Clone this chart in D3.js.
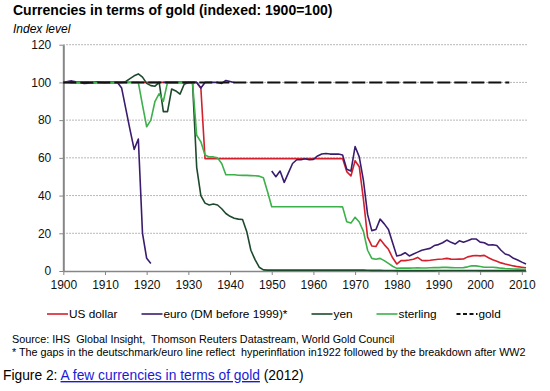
<!DOCTYPE html>
<html lang="en">
<head>
<meta charset="utf-8">
<title>Currencies in terms of gold</title>
<script src="https://cdn.jsdelivr.net/npm/d3@7"></script>
<style>
  body { margin: 0; background: #fff; }
  svg { display: block; font-family: "Liberation Sans", Arial, sans-serif; }
  .axis path, .axis line { stroke: #868686; }
  .axis text { fill: #111; font-size: 12px; font-family: "Liberation Sans", Arial, sans-serif; }
</style>
</head>
<body>
<div id="chart"></div>
<script>
// one value per year, 1900 .. 2011 (null = no data)
const years = d3.range(1900, 2012);

const usDollar = [
  100, 100, 100, 100, 100, 100, 100, 100, 100, 100,
  100, 100, 100, 100, 100, 100, 100, 100, 100, 100,
  100, 100, 100, 100, 100, 100, 100, 100, 100, 100,
  100, 100, 100, 97, 59.6, 59.6, 59.6, 59.6, 59.6, 59.6,
  59.6, 59.6, 59.6, 59.6, 59.6, 59.6, 59.6, 59.6, 59.6, 59.6,
  59.6, 59.6, 59.6, 59.6, 59.6, 59.6, 59.6, 59.6, 59.6, 59.6,
  59.6, 59.6, 59.6, 59.6, 59.6, 59.6, 59.6, 59.6, 52.7, 50.4,
  58.5, 55.3, 38, 18, 13.3, 13, 16.8, 14, 11.5, 7,
  3.7, 5.5, 5.5, 5.8, 6.2, 7.2, 5.6, 5.5, 5.7, 6,
  6.2, 6.4, 6.7, 6.3, 6.2, 6.3, 6.4, 7.5, 8, 8.2,
  8, 8.3, 7, 6, 5.2, 4.3, 3.7, 3.2, 2.7, 2.3,
  2, 1.7
];

const euro = [
  100, 100.5, 100.8, 100.3, 100, 99.5, 99.6, 100, 100.2, 100,
  99.8, 100, 100, 100, 97, 86, 75, 64.5, 70, 20,
  6.7, 4, null, null, 100, 100, 100, 100, 100, 100,
  100, 100, 100, 97, 100, 100, 100, 100, 99.5, 101,
  100.5, 100, null, null, null, null, null, null, null, null,
  53, 50, 53, 47, 52, 57, 59, 59, 59.5, 59,
  59.2, 61, 62, 62.3, 62, 62, 62, 61.5, 54, 53,
  66, 60.5, 48, 30, 21.4, 22, 27.5, 25, 22, 15,
  8, 8.5, 9.7, 8, 9, 10, 11, 11.5, 12, 13.5,
  14, 15, 16.4, 15.2, 14.3, 16, 15.3, 16, 17, 17,
  15.3, 15, 13.8, 13.9, 13.5, 11, 9, 8.3, 6.7, 5.8,
  4.7, 3.7
];

const yen = [
  100, 100.3, 100, 99.8, 100, 100.2, 100, 99.7, 100, 100,
  100, 100, 100, 100, 100, 100.5, 102, 103.5, 104.5, 102.8,
  99.5, 98.3, 98, 100, 84.5, 84.5, 96.5, 95.5, 93.8, 99,
  100, 100, 55, 40, 36, 35, 35.5, 35, 33, 30.5,
  29, 28, 27.5, 27.3, 21, 11, 6, 2, 0.6, 0.45,
  0.45, 0.45, 0.45, 0.45, 0.45, 0.45, 0.45, 0.45, 0.45, 0.45,
  0.45, 0.45, 0.45, 0.45, 0.45, 0.45, 0.45, 0.45, 0.45, 0.45,
  0.45, 0.45, 0.45, 0.4, 0.35, 0.35, 0.35, 0.3, 0.3, 0.25,
  0.2, 0.2, 0.2, 0.2, 0.2, 0.2, 0.2, 0.2, 0.2, 0.2,
  0.25, 0.25, 0.25, 0.25, 0.25, 0.25, 0.25, 0.25, 0.25, 0.25,
  0.2, 0.2, 0.2, 0.2, 0.2, 0.2, 0.2, 0.2, 0.2, 0.2,
  0.2, 0.2
];

const sterling = [
  100, 100, 99.7, 100, 100, 100.3, 100, 100, 99.8, 100,
  100, 100, 100, 100, 100, 100, 100, 100, 100, 88,
  76.5, 80, 90, 94, 90, 100, 100, 100, 100, 100,
  100, 100, 72, 68.5, 61.5, 60.5, 60.5, 60, 57, 51,
  51, 51, 50.8, 50.7, 50.7, 50.6, 50.5, 50.3, 49.5, 42,
  34.1, 34.1, 34.1, 34.1, 34.1, 34.1, 34.1, 34.1, 34.1, 34.1,
  34.1, 34.1, 34.1, 34.1, 34.1, 34.1, 34.1, 34, 26.1, 25.4,
  28.5, 26, 21, 11, 6.7, 6.2, 6.7, 5.5, 4, 2.5,
  1.4, 1.6, 1.5, 1.5, 1.6, 1.7, 1.6, 1.6, 1.7, 1.8,
  1.8, 1.9, 1.9, 1.8, 1.7, 1.7, 1.8, 2.2, 2.8, 2.7,
  2.4, 2, 2, 2, 1.8, 1.5, 1.3, 1.2, 1.1, 1,
  0.9, 0.8
];

const gold = [
  100, 100, 100, 100, 100, 100, 100, 100, 100, 100,
  100, 100, 100, 100, 100, 100, 100, 100, 100, 100,
  100, 100, 100, 100, 100, 100, 100, 100, 100, 100,
  100, 100, 100, 100, 100, 100, 100, 100, 100, 100,
  100, 100, 100, 100, 100, 100, 100, 100, 100, 100,
  100, 100, 100, 100, 100, 100, 100, 100, 100, 100,
  100, 100, 100, 100, 100, 100, 100, 100, 100, 100,
  100, 100, 100, 100, 100, 100, 100, 100, 100, 100,
  100, 100, 100, 100, 100, 100, 100, 100, 100, 100,
  100, 100, 100, 100, 100, 100, 100, 100, 100, 100,
  100, 100, 100, 100, 100, 100, 100, 100, null, null,
  null, null
];

const seriesNames = ["US dollar", "euro (DM before 1999)*", "yen", "sterling", "gold"];
const yTicks = [0, 20, 40, 60, 80, 100, 120];
const xTicks = [1900, 1910, 1920, 1930, 1940, 1950, 1960, 1970, 1980, 1990, 2000, 2010];

const series = [
  { name: seriesNames[0], values: usDollar, color: "#d4202c", width: 1.6 },
  { name: seriesNames[1], values: euro, color: "#3a1c6e", width: 1.6 },
  { name: seriesNames[2], values: yen, color: "#1d4a2c", width: 1.6 },
  { name: seriesNames[3], values: sterling, color: "#3cb04a", width: 1.6 },
  { name: seriesNames[4], values: gold, color: "#111", width: 2, dash: "13,4" }
];

const w = 550, h = 391;
const x = d3.scaleLinear().domain([1900, 2011]).range([63.3, 526]);
const y = d3.scaleLinear().domain([0, 120]).range([271, 44.7]);

const svg = d3.select("#chart").append("svg")
  .attr("width", w)
  .attr("height", h);

svg.append("text")
  .attr("x", 13).attr("y", 15)
  .attr("font-size", 14).attr("font-weight", "bold")
  .text("Currencies in terms of gold (indexed: 1900=100)");

svg.append("text")
  .attr("x", 13).attr("y", 33)
  .attr("font-size", 12).attr("font-style", "italic")
  .text("Index level");

// dotted gridlines
svg.append("g")
  .selectAll("line")
  .data(yTicks.filter(d => d > 0))
  .join("line")
    .attr("x1", x(1900)).attr("x2", 527)
    .attr("y1", d => y(d)).attr("y2", d => y(d))
    .attr("stroke", "#a0a0a0")
    .attr("stroke-dasharray", "1.5,1.5");

const yAxis = d3.axisLeft(y)
  .tickValues(yTicks)
  .tickSize(4)
  .tickSizeOuter(0)
  .tickPadding(8);

const xAxis = d3.axisBottom(x)
  .tickValues(xTicks)
  .tickFormat(d3.format("d"))
  .tickSize(4)
  .tickSizeOuter(0)
  .tickPadding(5);

svg.append("g")
  .attr("class", "x axis")
  .attr("transform", `translate(0,${y(0)})`)
  .call(xAxis)
  .select(".domain").attr("stroke-width", 1.5);

svg.append("g")
  .attr("class", "y axis")
  .attr("transform", `translate(${x(1900)},0)`)
  .call(yAxis)
  .select(".domain").attr("stroke-width", 2);

const line = d3.line()
  .defined(d => d[1] != null)
  .x(d => x(d[0]))
  .y(d => y(d[1]));

svg.append("g")
  .selectAll("path")
  .data(series)
  .join("path")
    .attr("fill", "none")
    .attr("stroke", d => d.color)
    .attr("stroke-width", d => d.width)
    .attr("stroke-dasharray", d => d.dash || null)
    .attr("stroke-linejoin", "round")
    .attr("d", d => line(years.map((yr, i) => [yr, d.values[i]])));

// legend
const legendX = [47, 141.5, 311.5, 376.5, 456.5];
const legend = svg.append("g")
  .selectAll("g")
  .data(series)
  .join("g")
    .attr("transform", (d, i) => `translate(${legendX[i]},314)`);

legend.append("line")
  .attr("x1", 0).attr("x2", 21)
  .attr("stroke", d => d.color)
  .attr("stroke-width", d => d.dash ? 2 : 1.6)
  .attr("stroke-dasharray", d => d.dash ? "4,2.5" : null);

legend.append("text")
  .attr("x", 22).attr("dy", "0.35em")
  .attr("font-size", 11.8)
  .text(d => d.name);

svg.append("text")
  .attr("x", 12).attr("y", 343)
  .attr("font-size", 10.8)
  .style("white-space", "pre")
  .text("Source: IHS  Global Insight,  Thomson Reuters Datastream, World Gold Council");

svg.append("text")
  .attr("x", 12).attr("y", 356)
  .attr("font-size", 10.8)
  .style("white-space", "pre")
  .text("* The gaps in the deutschmark/euro line reflect  hyperinflation in1922 followed by the breakdown after WW2");

const caption = svg.append("text")
  .attr("x", 3).attr("y", 380)
  .attr("font-size", 13.8);
caption.append("tspan").text("Figure 2: ");
caption.append("tspan")
  .attr("fill", "#1a1ad6")
  .attr("text-decoration", "underline")
  .text("A few currencies in terms of gold");
caption.append("tspan").text(" (2012)");
</script>
</body>
</html>
